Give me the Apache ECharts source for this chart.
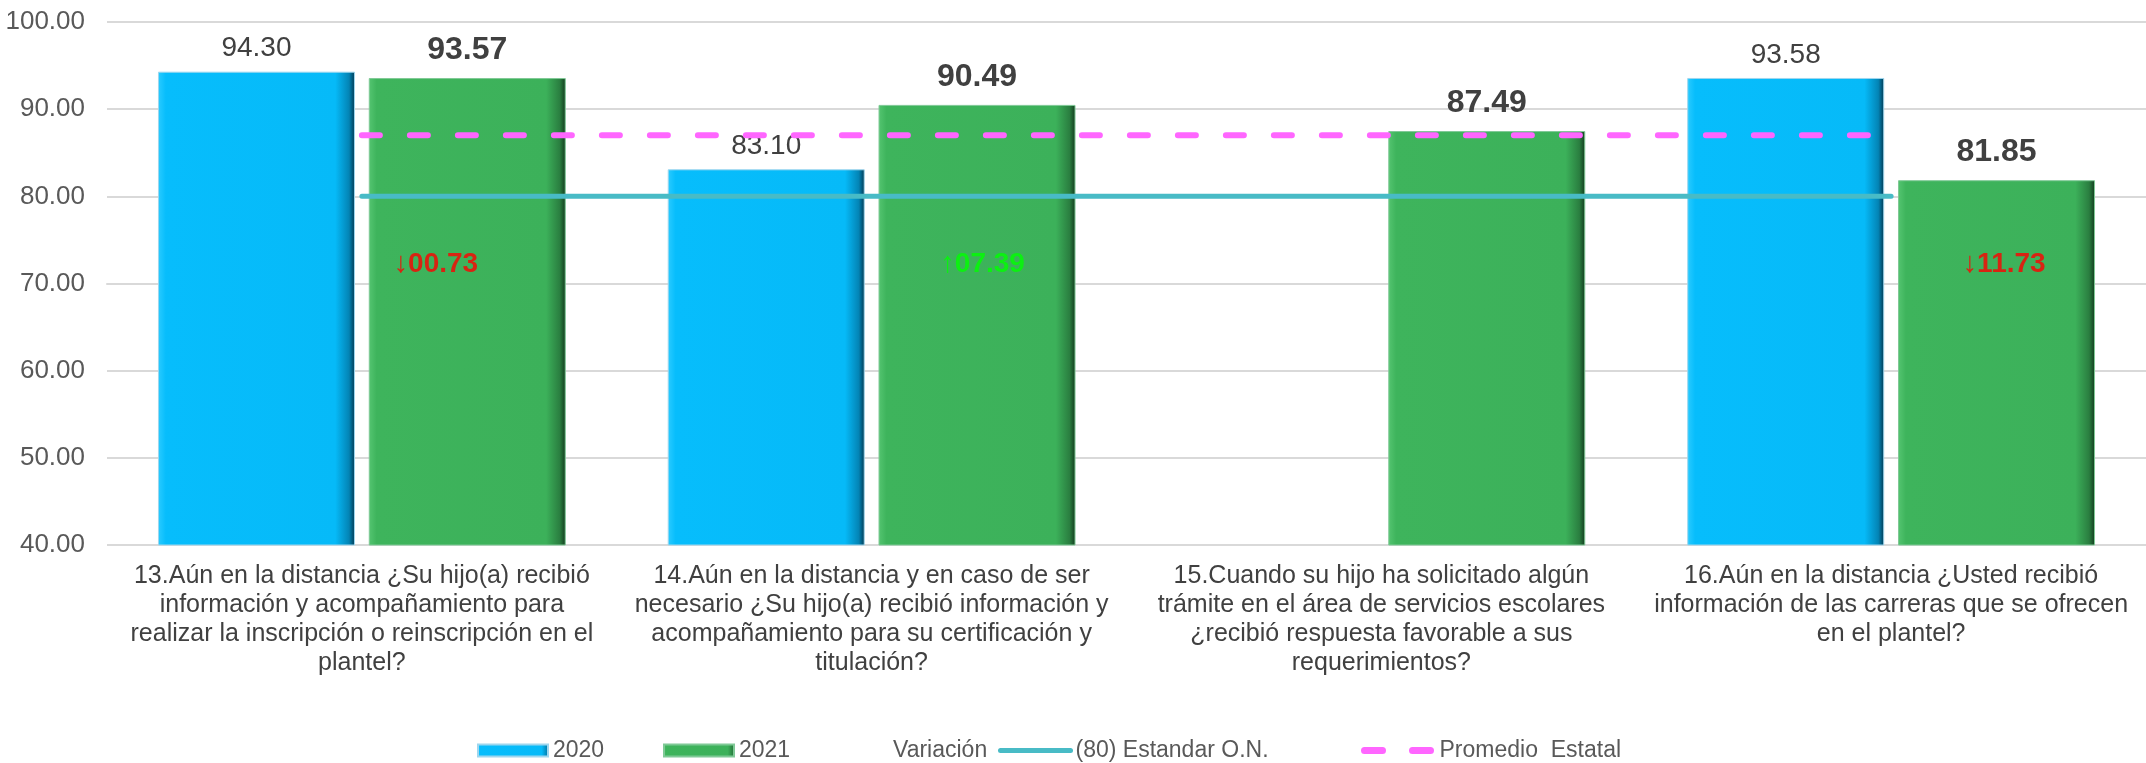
<!DOCTYPE html>
<html>
<head>
<meta charset="utf-8">
<script src="https://cdn.jsdelivr.net/npm/echarts@6/dist/echarts.min.js"></script>
<style>
html,body{margin:0;padding:0;background:#fff;}
#chart{width:2146px;height:763px;}
</style>
</head>
<body>
<div id="chart"></div>
<script>
// ---- data ----
const categories = [
  "13.Aún en la distancia ¿Su hijo(a) recibió\ninformación y acompañamiento para\nrealizar la inscripción o reinscripción en el\nplantel?",
  "14.Aún en la distancia y en caso de ser\nnecesario ¿Su hijo(a) recibió información y\nacompañamiento para su certificación y\ntitulación?",
  "15.Cuando su hijo ha solicitado algún\ntrámite en el área de servicios escolares\n¿recibió respuesta favorable a sus\nrequerimientos?",
  "16.Aún en la distancia ¿Usted recibió\ninformación de las carreras que se ofrecen\nen el plantel?"
];
const values2020 = [94.30, 83.10, 0, 93.58];
const values2021 = [93.57, 90.49, 87.49, 81.85];
const variation = [-0.73, 7.39, null, -11.73];
const estandar = [80, 80, 80, 80];
const promedioEstatal = [87.0, 87.0, 87.0, 87.0];
const yMin = 40, yMax = 100, yInterval = 10;

// ---- styles ----
const FONT = "'Liberation Sans', Arial, sans-serif";
const variationLabelShift = [-32, 5, 0, 7];

const blueGrad = new echarts.graphic.LinearGradient(0, 0, 1, 0, [
  {offset: 0, color: '#2BCBFF'},
  {offset: 0.04, color: '#07BDFC'},
  {offset: 0.9, color: '#06BAF8'},
  {offset: 0.97, color: '#0384B5'},
  {offset: 1, color: '#02374F'}
]);
const greenGrad = new echarts.graphic.LinearGradient(0, 0, 1, 0, [
  {offset: 0, color: '#55C571'},
  {offset: 0.04, color: '#3EB45C'},
  {offset: 0.9, color: '#3CB15A'},
  {offset: 0.97, color: '#2A7E40'},
  {offset: 1, color: '#123A1D'}
]);

const chart = echarts.init(document.getElementById('chart'));

function fmtVar(v) {
  const a = Math.abs(v);
  const s = (a < 10 ? '0' : '') + a.toFixed(2);
  return v < 0 ? '{dA|↓}{dV|' + s + '}' : '{uA|↑}{uV|' + s + '}';
}

const legendBase = {
  top: 734,
  itemWidth: 70,
  itemHeight: 12,
  textStyle: {fontFamily: FONT, fontSize: 23, color: '#595959'},
  selectedMode: false
};

chart.setOption({
  animation: false,
  backgroundColor: '#fff',
  textStyle: {fontFamily: FONT},
  grid: {left: 107, right: -7, top: 22, bottom: 218, containLabel: false},
  legend: [
    Object.assign({}, legendBase, {left: 472, data: [{name: '2020', icon: 'rect'}]}),
    Object.assign({}, legendBase, {left: 658, data: [{name: '2021', icon: 'rect'}]}),
    Object.assign({}, legendBase, {left: 882, itemWidth: 1, data: [{name: 'Variación', itemStyle: {opacity: 0}}]}),
    Object.assign({}, legendBase, {left: 993, data: [{name: '(80) Estandar O.N.', itemStyle: {opacity: 0}, lineStyle: {width: 5}}]}),
    Object.assign({}, legendBase, {left: 1356, data: [{name: 'Promedio  Estatal', itemStyle: {opacity: 0}, lineStyle: {width: 7}}]})
  ],
  xAxis: {
    type: 'category',
    data: categories,
    axisLine: {show: true, lineStyle: {color: '#D9D9D9', width: 2}},
    axisTick: {show: false},
    axisLabel: {
      interval: 0, margin: 17, fontFamily: FONT, fontSize: 25, lineHeight: 29,
      color: '#404040', align: 'center'
    }
  },
  yAxis: [{
    type: 'value',
    min: yMin, max: yMax, interval: yInterval,
    axisLine: {show: false},
    axisTick: {show: false},
    axisLabel: {
      fontFamily: FONT, fontSize: 26, color: '#595959', margin: 22,
      formatter: v => v.toFixed(2)
    },
    splitLine: {lineStyle: {color: '#D9D9D9', width: 2}}
  }, {
    type: 'value', min: -20, max: 20, show: false, splitLine: {show: false}
  }],
  series: [
    {
      name: '2020', type: 'bar', data: values2020,
      barWidth: 197, barGap: '7%',
      itemStyle: {color: blueGrad, borderColor: '#9ED6EE', borderWidth: 1},
      label: {
        show: true, position: 'top', distance: 9,
        fontFamily: FONT, fontSize: 28, color: '#404040',
        formatter: p => p.value ? p.value.toFixed(2) : ''
      },
      z: 2
    },
    {
      name: '2021', type: 'bar', data: values2021,
      barWidth: 197,
      itemStyle: {color: greenGrad, borderColor: '#7FC996', borderWidth: 1},
      label: {
        show: true, position: 'top', distance: 12,
        fontFamily: FONT, fontSize: 32, fontWeight: 'bold', color: '#404040',
        formatter: p => p.value.toFixed(2)
      },
      z: 2
    },
    {
      name: 'Variación', type: 'scatter', yAxisIndex: 1, data: variation,
      symbolSize: 1, itemStyle: {color: 'rgba(0,0,0,0)'},
      label: {
        show: true, position: 'inside',
        formatter: p => fmtVar(p.value),
        rich: {
          dA: {color: '#FF0000', fontFamily: FONT, fontSize: 29},
          dV: {color: '#FF0000', fontFamily: FONT, fontSize: 28, fontWeight: 'bold'},
          uA: {color: '#00FF00', fontFamily: FONT, fontSize: 29},
          uV: {color: '#00FF00', fontFamily: FONT, fontSize: 28, fontWeight: 'bold'}
        }
      },
      labelLayout: function (params) {
        const r = params.labelRect;
        return {
          x: r.x + r.width / 2 + 106 + variationLabelShift[params.dataIndex],
          y: 264,
          align: 'center',
          verticalAlign: 'middle'
        };
      },
      z: 5
    },
    {
      name: '(80) Estandar O.N.', type: 'line', data: estandar,
      symbol: 'none', lineStyle: {color: '#48BBC6', width: 5, cap: 'round'},
      itemStyle: {color: '#48BBC6'}, z: 4
    },
    {
      name: 'Promedio  Estatal', type: 'line', data: promedioEstatal,
      symbol: 'none', lineStyle: {color: '#FF66FF', width: 6, type: [18, 30], cap: 'round'},
      itemStyle: {color: '#FF66FF'}, z: 4
    }
  ]
});
</script>
</body>
</html>
